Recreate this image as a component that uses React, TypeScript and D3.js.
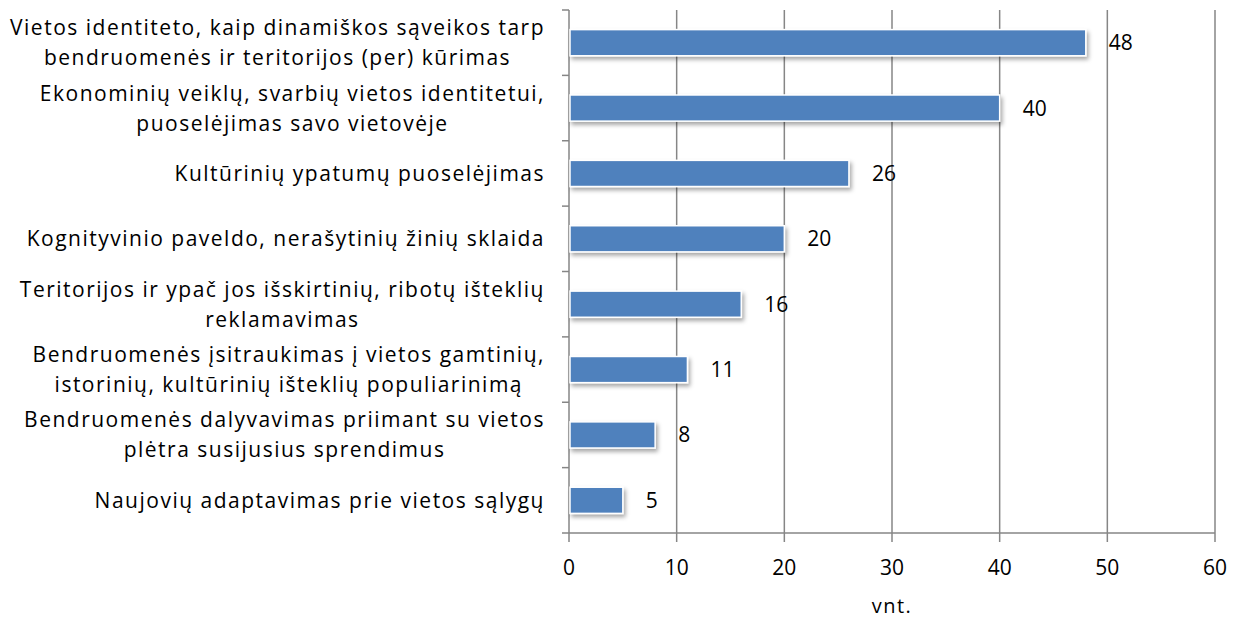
import React, { useEffect, useRef } from 'react';
import * as d3 from 'd3';

const categories = [
  ['Vietos identiteto, kaip dinamiškos sąveikos tarp', 'bendruomenės ir teritorijos (per) kūrimas'],
  ['Ekonominių veiklų, svarbių vietos identitetui,', 'puoselėjimas savo vietovėje'],
  ['Kultūrinių ypatumų puoselėjimas'],
  ['Kognityvinio paveldo, nerašytinių žinių sklaida'],
  ['Teritorijos ir ypač jos išskirtinių, ribotų išteklių', 'reklamavimas'],
  ['Bendruomenės įsitraukimas į vietos gamtinių,', 'istorinių, kultūrinių išteklių populiarinimą'],
  ['Bendruomenės dalyvavimas priimant su vietos', 'plėtra susijusius sprendimus'],
  ['Naujovių adaptavimas prie vietos sąlygų'],
];
const values = [48, 40, 26, 20, 16, 11, 8, 5];
const xTicks = [0, 10, 20, 30, 40, 50, 60];
const axisTitle = 'vnt.';

const width = 1238;
const height = 619;
const margin = { left: 569, top: 10, right: 23, bottom: 86 };
const font = '"Open Sans", Lato, sans-serif';
const gray = '#868686';

export default function App() {
  const ref = useRef<SVGSVGElement>(null);

  useEffect(() => {
    const svg = d3.select(ref.current);
    svg.selectAll('*').remove();
    const innerW = width - margin.left - margin.right;
    const innerH = height - margin.top - margin.bottom;

    const x = d3.scaleLinear().domain([0, 60]).range([0, innerW]);
    const y = d3
      .scaleBand<number>()
      .domain(d3.range(values.length))
      .range([0, innerH])
      .paddingInner(0.6)
      .paddingOuter(0.3);

    const defs = svg.append('defs');
    const f = defs.append('filter').attr('id', 'shadow').attr('x', '-10%').attr('y', '-30%').attr('width', '130%').attr('height', '190%');
    f.append('feDropShadow')
      .attr('dx', 2)
      .attr('dy', 3)
      .attr('stdDeviation', 2)
      .attr('flood-color', '#000')
      .attr('flood-opacity', 0.35);

    const g = svg.append('g').attr('transform', `translate(${margin.left},${margin.top})`);

    // vertical gridlines
    g.selectAll('.grid')
      .data(xTicks.slice(1))
      .enter()
      .append('line')
      .attr('x1', d => x(d))
      .attr('x2', d => x(d))
      .attr('y1', 0)
      .attr('y2', innerH)
      .attr('stroke', gray)
      .attr('stroke-width', 1.5);

    // bottom axis
    g.append('line')
      .attr('x1', 0)
      .attr('x2', innerW)
      .attr('y1', innerH)
      .attr('y2', innerH)
      .attr('stroke', gray)
      .attr('stroke-width', 1.5);
    g.selectAll('.xtick')
      .data(xTicks)
      .enter()
      .append('line')
      .attr('x1', d => x(d))
      .attr('x2', d => x(d))
      .attr('y1', innerH)
      .attr('y2', innerH + 9)
      .attr('stroke', gray)
      .attr('stroke-width', 1.5);
    g.selectAll('.xlabel')
      .data(xTicks)
      .enter()
      .append('text')
      .attr('x', d => x(d))
      .attr('y', innerH + 42)
      .attr('text-anchor', 'middle')
      .attr('font-family', font)
      .attr('font-size', 21)
      .attr('fill', '#000')
      .text(d => d);
    g.append('text')
      .attr('x', innerW / 2)
      .attr('y', innerH + 80)
      .attr('text-anchor', 'middle')
      .attr('font-family', font)
      .attr('font-size', 20)
      .attr('letter-spacing', 1.5)
      .text(axisTitle);

    // left axis
    g.append('line')
      .attr('x1', 0)
      .attr('x2', 0)
      .attr('y1', 0)
      .attr('y2', innerH)
      .attr('stroke', gray)
      .attr('stroke-width', 1.5);
    g.selectAll('.ytick')
      .data(d3.range(values.length + 1))
      .enter()
      .append('line')
      .attr('x1', -7)
      .attr('x2', 0)
      .attr('y1', i => (innerH / values.length) * i)
      .attr('y2', i => (innerH / values.length) * i)
      .attr('stroke', gray)
      .attr('stroke-width', 1.5);

    // bars
    g.selectAll('.bar')
      .data(values)
      .enter()
      .append('rect')
      .attr('x', 1)
      .attr('y', (d, i) => y(i)!)
      .attr('width', d => x(d) - 1)
      .attr('height', y.bandwidth())
      .attr('fill', '#4F81BD')
      .attr('stroke', '#fff')
      .attr('stroke-width', 1.5)
      .attr('filter', 'url(#shadow)');

    // value labels
    g.selectAll('.val')
      .data(values)
      .enter()
      .append('text')
      .attr('x', d => x(d) + 23)
      .attr('y', (d, i) => y(i)! + y.bandwidth() / 2)
      .attr('dy', '0.36em')
      .attr('font-family', font)
      .attr('font-size', 21)
      .text(d => d);

    // category labels
    const lineH = 30;
    categories.forEach((lines, i) => {
      const cy = y(i)! + y.bandwidth() / 2;
      const lg = g.append('g');
      const texts = lines.map((t, j) =>
        lg
          .append('text')
          .attr('y', cy + (j - (lines.length - 1) / 2) * lineH)
          .attr('dy', '0.36em')
          .attr('text-anchor', 'middle')
          .attr('font-family', font)
          .attr('font-size', 21)
          .attr('letter-spacing', 1.5)
          .text(t)
      );
      const widths = texts.map(t => (t.node() as SVGTextElement).getComputedTextLength());
      const blockW = Math.max(...widths);
      texts.forEach(t => t.attr('x', -24 - blockW / 2));
    });
  }, []);

  return (
    <svg
      ref={ref}
      width={width}
      height={height}
      viewBox={`0 0 ${width} ${height}`}
      style={{ position: 'absolute', left: 0, top: 0, background: '#fff' }}
    />
  );
}
